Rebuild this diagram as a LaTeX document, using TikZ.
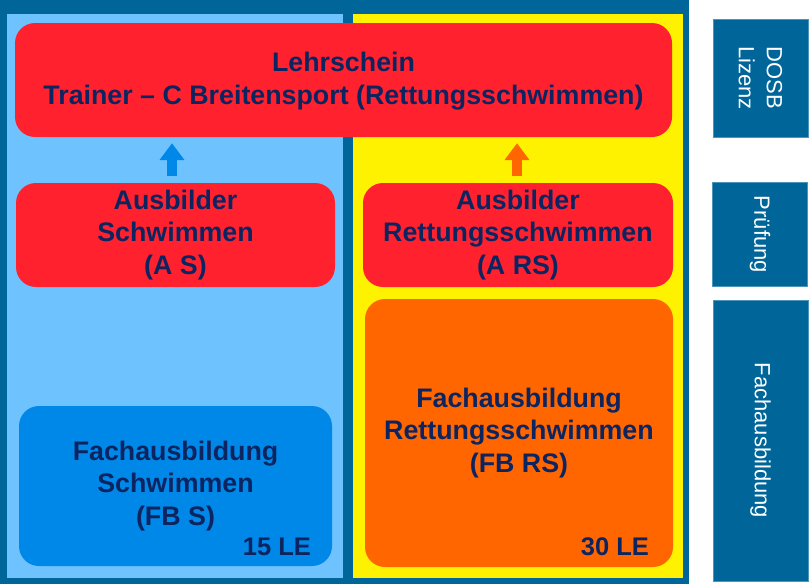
\documentclass[tikz,border=0pt]{standalone}
\usepackage{fontspec}
\setmainfont{Liberation Sans}
\usepackage{xcolor}
\usetikzlibrary{arrows.meta,positioning,calc}
\definecolor{frameblue}{RGB}{0,102,153}
\definecolor{lightblue}{RGB}{110,195,255}
\definecolor{boxred}{RGB}{255,34,46}
\definecolor{boxorange}{RGB}{255,102,0}
\definecolor{boxblue}{RGB}{0,136,232}
\definecolor{navy}{RGB}{12,36,96}

\begin{document}
\begin{tikzpicture}[x=1pt, y=-1pt,
    box/.style={rounded corners=20pt, align=center, text=navy, inner sep=0pt,
        font=\bfseries\fontsize{26.8}{32.5}\selectfont},
    le/.style={anchor=base east, text=navy, inner sep=0pt, font=\bfseries\fontsize{25.5}{30}\selectfont},
    side/.style={fill=frameblue, draw=frameblue!70!white, inner sep=0pt, rotate=-90,
        align=center, text=white, font=\fontsize{22}{28}\selectfont},
    blockarrow/.style={line width=10pt, -{Triangle[width=24pt,length=17pt]}, shorten <=7pt, shorten >=6pt}]
    \useasboundingbox (0,0) rectangle (810,584);
    \fill[white] (0,0) rectangle (810,584);
    \fill[frameblue] (0,0) rectangle (689,584);
    \fill[lightblue] (7,14) rectangle (343,578);
    \fill[yellow] (353,14) rectangle (683,578);

    \node[box, fill=boxred, minimum width=657pt, minimum height=114pt] (lehr) at (343.5,80) {\rule{0pt}{22pt}Lehrschein\\Trainer -- C Breitensport (Rettungsschwimmen)};

    \node[box, fill=boxred, minimum width=319pt, minimum height=104pt] (as) at (175.5,235) {Ausbilder\\Schwimmen\\(A S)};
    \node[box, fill=boxred, minimum width=310pt, minimum height=104pt] (ars) at (518,235) {Ausbilder\\Rettungsschwimmen\\(A RS)};

    \node[box, fill=boxblue, minimum width=313pt, minimum height=160pt] (fbs) at (175.5,486) {Fachausbildung\\Schwimmen\\(FB S)};
    \node[box, fill=boxorange, minimum width=308pt, minimum height=268pt] (fbrs) at (519,433) {Fachausbildung\\Rettungsschwimmen\\(FB RS)};

    \node[le] (les) at ([xshift=-21pt, yshift=11pt]fbs.south east) {15 LE};
    \node[le] (lers) at ([xshift=-24pt, yshift=12pt]fbrs.south east) {30 LE};

    \draw[blockarrow, boxblue] ([xshift=-3.5pt]as.north) -- ([xshift=-3.5pt]as.north |- lehr.south);
    \draw[blockarrow, boxorange] ([xshift=-1pt]ars.north) -- ([xshift=-1pt]ars.north |- lehr.south);

    \node[side, minimum width=118pt, minimum height=95pt] (dosb) at (760.5,78) {DOSB\\Lizenz};
    \node[side, minimum width=104pt, minimum height=95pt] (pruef) at (760,234.5) {Prüfung};
    \node[side, minimum width=281pt, minimum height=95pt] (fach) at (760.5,440.5) {Fachausbildung};
\end{tikzpicture}
\end{document}
